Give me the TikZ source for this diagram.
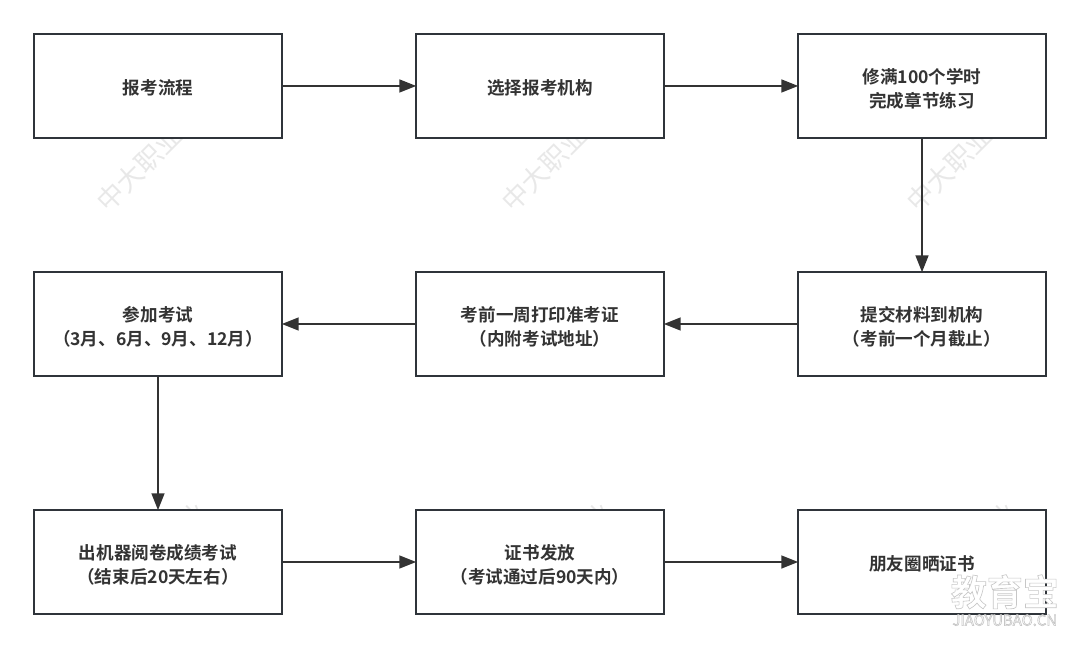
\documentclass[tikz,border=0pt]{standalone}
\usepackage{fontspec}
\setmainfont{Noto Sans CJK SC}[BoldFont={Noto Sans CJK SC Bold}]
\usetikzlibrary{arrows.meta}
\definecolor{linecol}{HTML}{2F343A}
\definecolor{textcol}{HTML}{333333}
\newcommand{\outlinetext}{\special{pdf:code 2 Tr 0.45 w 0.78 G 1 g}}
\tikzset{
  flowbox/.style={draw=linecol, line width=1.4pt, fill=white, minimum width=6.2cm, minimum height=2.6cm,
    align=center, text=textcol, font=\fontsize{12.5}{16.5}\selectfont\bfseries},
  oneline/.style={flowbox, execute at begin node={\rule{0pt}{13pt}}},
  twoline/.style={flowbox, text height=30pt, text depth=0pt},
  flowarrow/.style={draw=textcol, line width=1.4pt, shorten >=-0.03cm, -{Triangle[length=0.42cm, width=0.32cm]}},
  markfaint/.style={text=black!9, rotate=45, font=\fontsize{19}{22}\selectfont}
}
\begin{document}
\begin{tikzpicture}[auto]
    \useasboundingbox (0, 0) rectangle (27, 16.225);

    \node [markfaint] (wa) at (3.475, 12.02) {中大职业};
    \node [markfaint] (wb) at (13.6, 12.02) {中大职业};
    \node [markfaint] (wc) at (23.725, 12.02) {中大职业};
    \node [markfaint] (wd) at (4.1, 2.6) {中大职业};
    \node [markfaint] (we) at (14.225, 2.6) {中大职业};
    \node [markfaint] (wf) at (24.35, 2.6) {中大职业};

    \node [oneline] (a) at (3.95, 14.075) {报考流程};
    \node [oneline] (b) at (13.5, 14.075) {选择报考机构};
    \node [twoline] (c) at (23.05, 14.075) {修满100个学时\\完成章节练习};
    \node [twoline] (d) at (23.05, 8.125) {提交材料到机构\\（考前一个月截止）};
    \node [twoline] (e) at (13.5, 8.125) {考前一周打印准考证\\（内附考试地址）};
    \node [twoline] (f) at (3.95, 8.125) {参加考试\\（3月、6月、9月、12月）};
    \node [twoline] (g) at (3.95, 2.175) {出机器阅卷成绩考试\\（结束后20天左右）};
    \node [twoline] (h) at (13.5, 2.175) {证书发放\\（考试通过后90天内）};
    \node [oneline] (i) at (23.05, 2.175) {朋友圈晒证书};

    \draw [flowarrow] (a) to (b);
    \draw [flowarrow] (b) to (c);
    \draw [flowarrow] (c) to (d);
    \draw [flowarrow] (d) to (e);
    \draw [flowarrow] (e) to (f);
    \draw [flowarrow] (f) to (g);
    \draw [flowarrow] (g) to (h);
    \draw [flowarrow] (h) to (i);

    \node [font=\fontsize{25.6}{30}\selectfont\bfseries] (m) at (25.12, 1.43) {\outlinetext 教育宝};
    \node [font=\fontsize{10.6}{12}\selectfont] (n) at (25.12, 0.72) {\outlinetext JIAOYUBAO.CN};

\end{tikzpicture}
\end{document}
